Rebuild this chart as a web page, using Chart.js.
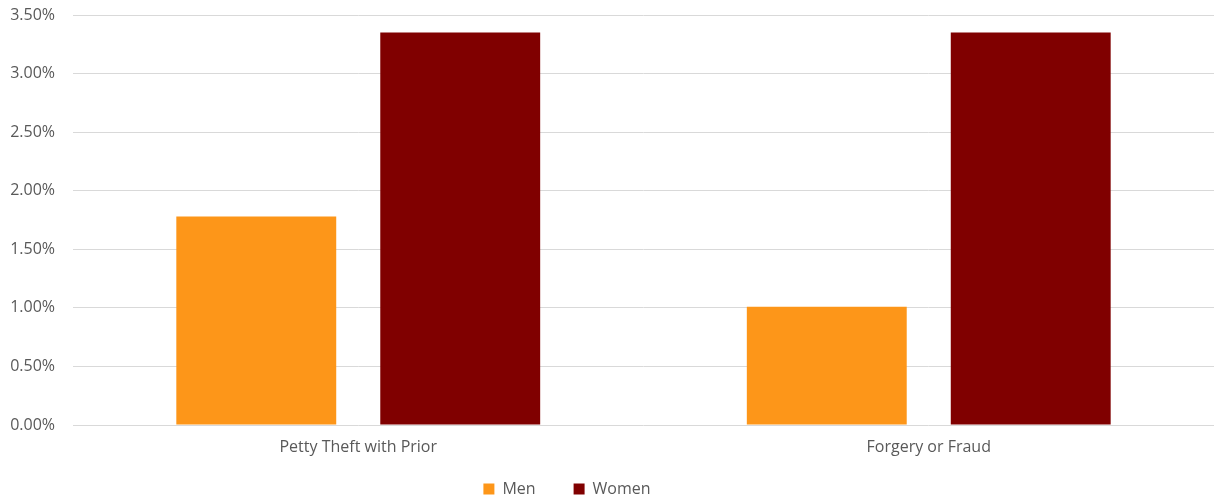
<!DOCTYPE html>
<html>
<head>
<meta charset="utf-8">
<script src="https://cdn.jsdelivr.net/npm/chart.js@4.4.0/dist/chart.umd.min.js"></script>
<style>
html,body{margin:0;padding:0;background:#fff;}
#wrap{width:1216px;height:502px;position:relative;}
</style>
</head>
<body>
<div id="wrap"><canvas id="c"></canvas></div>
<script>
const categories = ["Petty Theft with Prior", "Forgery or Fraud"];
const menValues = [1.78, 1.01];
const womenValues = [3.35, 3.35];
const seriesNames = ["Men", "Women"];

const legendFitPlugin = {
  id: 'legendFit',
  beforeInit(chart) {
    const lg = chart.legend;
    if (!lg) return;
    const origFit = lg.fit;
    lg.fit = function () { origFit.call(this); this.height = 60; };
    const origDraw = lg.draw;
    lg.draw = function (area) {
      const ctx = this.ctx;
      ctx.save();
      ctx.translate(-40, 1);
      origDraw.call(this, area);
      ctx.restore();
    };
  }
};

new Chart(document.getElementById('c'), {
  type: 'bar',
  data: {
    labels: categories,
    datasets: [
      { label: seriesNames[0], data: menValues, backgroundColor: '#fd9619' },
      { label: seriesNames[1], data: womenValues, backgroundColor: '#800000' }
    ]
  },
  plugins: [legendFitPlugin],
  options: {
    responsive: true,
    maintainAspectRatio: false,
    animation: false,
    devicePixelRatio: 1,
    categoryPercentage: 0.715,
    barPercentage: 0.784,
    layout: { padding: { top: 0, right: 2, left: 0, bottom: 0 } },
    plugins: {
      legend: {
        position: 'bottom',
        labels: {
          boxWidth: 11, boxHeight: 11, color: '#595959',
          font: { family: 'Open Sans', size: 16 },
          padding: 38
        }
      },
      tooltip: { enabled: false }
    },
    scales: {
      x: {
        grid: { display: false, drawTicks: false },
        border: { display: false },
        ticks: { color: '#595959', font: { family: 'Open Sans', size: 16 }, padding: 13 },
        afterFit: s => { s.height = 17; s._computeLabelArea = () => undefined; }
      },
      y: {
        min: 0, max: 3.5,
        ticks: {
          stepSize: 0.5, color: '#595959', padding: 18,
          font: { family: 'Open Sans', size: 16 },
          callback: v => v.toFixed(2) + '%'
        },
        grid: { color: '#d9d9d9', lineWidth: 1, drawTicks: false },
        border: { display: false },
        afterFit: s => { s.width = 73; s.paddingTop = 15; s.paddingBottom = 0; }
      }
    }
  }
});
</script>
</body>
</html>
